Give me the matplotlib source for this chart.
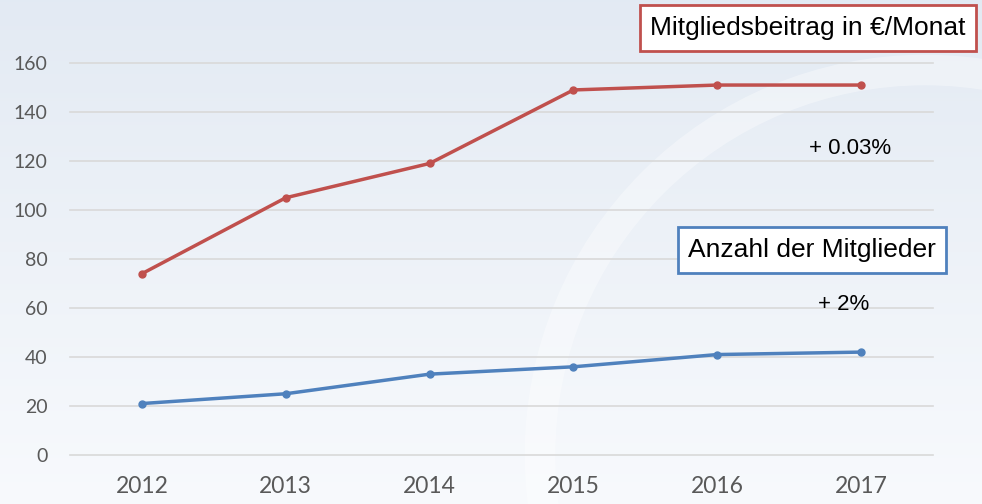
import numpy as np
import matplotlib.pyplot as plt
from matplotlib.patches import Circle

years = ['2012', '2013', '2014', '2015', '2016', '2017']
beitrag = [74, 105, 119, 149, 151, 151]
mitglieder = [21, 25, 33, 36, 41, 42]
yticks = [0, 20, 40, 60, 80, 100, 120, 140, 160]

red = '#C0504D'
blue = '#4F81BD'

fig = plt.figure(figsize=(9.82, 5.04), dpi=100)

# background gradient + faint watermark ring
bg = fig.add_axes([0, 0, 1, 1], zorder=0)
grad = np.linspace(0, 1, 256).reshape(-1, 1)
top = np.array([0.890, 0.918, 0.953])
bottom = np.array([0.972, 0.980, 0.992])
img = top + (bottom - top) * grad[:, :, None] * np.ones((1, 1, 3))
bg.imshow(img, aspect='auto', extent=[0, 982, 504, 0])
bg.add_patch(Circle((925, 455), 385, fill=False, ec='white', lw=22, alpha=0.35))
bg.set_xlim(0, 982)
bg.set_ylim(504, 0)
bg.axis('off')

ax = fig.add_axes([70 / 982, 1 - 455 / 504, 863 / 982, 392 / 504], zorder=1)
ax.patch.set_alpha(0)
x = np.arange(len(years))
ax.plot(x, beitrag, color=red, lw=2.5, marker='o', ms=5, clip_on=False, zorder=3)
ax.plot(x, mitglieder, color=blue, lw=2.5, marker='o', ms=5, clip_on=False, zorder=3)

ax.set_xlim(-0.5, len(years) - 0.5)
ax.set_ylim(0, 160)
ax.set_yticks(yticks)
ax.set_xticks(x)
ax.set_xticklabels(years, fontsize=16.5, color='#595959', fontfamily='Lato')
ax.set_yticklabels([str(v) for v in yticks], fontsize=14, color='#595959', fontfamily='Lato')
ax.tick_params(length=0, axis='y', pad=16)
ax.tick_params(length=0, axis='x', pad=15)
for s in ax.spines.values():
    s.set_visible(False)
ax.grid(axis='y', color='#D9D9D9', lw=1.2)
for gl in ax.get_ygridlines():
    gl.set_clip_on(False)
ax.set_axisbelow(True)

box = dict(boxstyle='square,pad=0.4', fc='white', lw=2)
fig.text(808 / 982, 1 - 28 / 504, 'Mitgliedsbeitrag in €/Monat', ha='center', va='center',
         fontsize=19, fontfamily='Liberation Sans', bbox=dict(box, ec=red))
fig.text(812 / 982, 1 - 250 / 504, 'Anzahl der Mitglieder', ha='center', va='center',
         fontsize=19, fontfamily='Liberation Sans', bbox=dict(box, ec=blue))
fig.text(850 / 982, 1 - 148 / 504, '+ 0.03%', ha='center', va='center',
         fontsize=16, fontfamily='Liberation Sans')
fig.text(844 / 982, 1 - 305 / 504, '+ 2%', ha='center', va='center',
         fontsize=16, fontfamily='Liberation Sans')

fig.savefig('out.png', dpi=100)
